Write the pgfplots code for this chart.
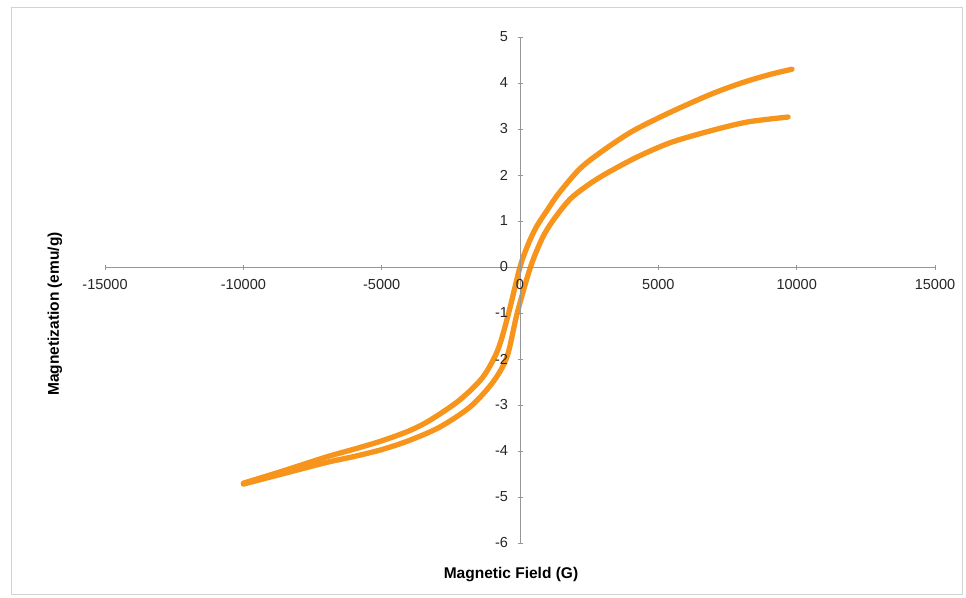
\documentclass[border=0pt]{standalone}
\usepackage{pgfplots}
\pgfplotsset{compat=1.18}
\usepackage{fontspec}
\setmainfont{Liberation Sans}
\definecolor{curve}{RGB}{247,148,28}
\definecolor{axgray}{RGB}{150,150,150}
\begin{document}
\begin{tikzpicture}[x=1pt,y=1pt]
\path (0,0) rectangle (966,597);
\draw[gray!35, line width=1pt] (11,3) rectangle (962,589);
\begin{axis}[
  at={(105pt,54pt)}, anchor=south west,
  scale only axis, width=830pt, height=506pt,
  axis lines=middle, axis on top,
  xmin=-15000, xmax=15000, ymin=-6, ymax=5,
  scaled x ticks=false, scaled y ticks=false,
  xtick={-15000,-10000,-5000,0,5000,10000,15000},
  xticklabels={-15000,-10000,-5000,0,5000,10000,15000},
  ytick={-6,-5,-4,-3,-2,-1,0,1,2,3,4,5},
  yticklabels={-6,-5,-4,-3,-2,-1,0,1,2,3,4,5},
  hide obscured x ticks=false, hide obscured y ticks=false,
  axis line style={axgray, line width=0.8pt, -},
  tick style={axgray, line width=0.6pt},
  major tick length=5pt,
  ticklabel style={font=\fontsize{14.5}{15}\selectfont, text=black!85},
  xticklabel style={yshift=-6pt},
  yticklabel style={xshift=-6pt},
  clip=false,
]
\addplot[curve, line width=5.3pt, smooth, line cap=round, line join=round] coordinates {
(-10000,-4.70) (-8600,-4.44) (-7000,-4.13) (-6000,-3.96) (-5000,-3.78)
(-4000,-3.56) (-3250,-3.33) (-2200,-2.90) (-1350,-2.40) (-800,-1.80)
(-410,-1.00) (0,0) (300,0.50) (600,0.88) (1000,1.25) (1400,1.60) (2170,2.14) (3000,2.53)
(4000,2.93) (5000,3.24) (6000,3.52) (7000,3.78) (8000,4.00) (9000,4.18) (9830,4.30)
};
\addplot[curve, line width=5.3pt, smooth, line cap=round, line join=round] coordinates {
(-10000,-4.72) (-8600,-4.50) (-7000,-4.25) (-6000,-4.12) (-5000,-3.97)
(-4000,-3.77) (-2900,-3.48) (-1800,-3.04) (-975,-2.50) (-470,-1.95) (-100,-1.00)
(380,0) (800,0.62) (1180,1.00) (1800,1.47) (2500,1.80) (3140,2.04) (4230,2.39) (5420,2.70)
(6760,2.94) (8200,3.15) (9690,3.26)
};
\end{axis}
\node[rotate=90, font=\bfseries\fontsize{15.5}{16}\selectfont] at (55,283) {Magnetization (emu/g)};
\node[font=\bfseries\fontsize{15.5}{16}\selectfont] at (511,22) {Magnetic Field (G)};
\end{tikzpicture}
\end{document}
